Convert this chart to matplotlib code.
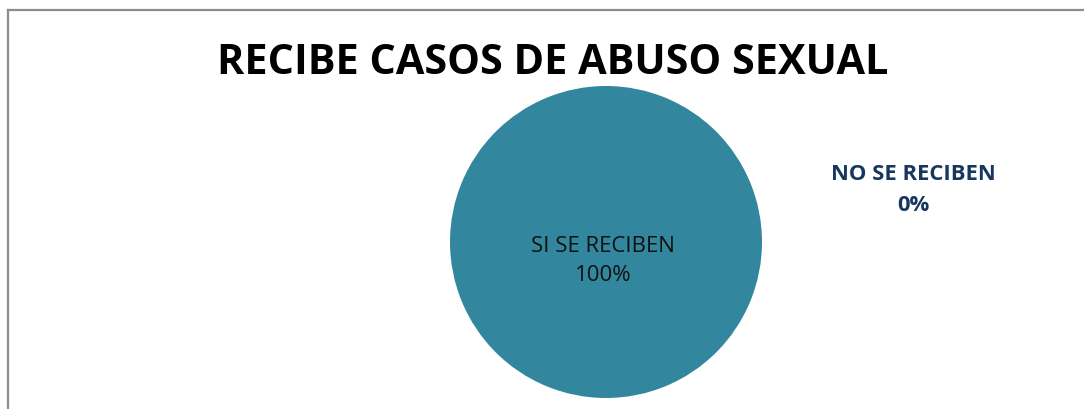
import matplotlib
matplotlib.use("Agg")
import matplotlib.pyplot as plt
from matplotlib.lines import Line2D

title = "RECIBE CASOS DE ABUSO SEXUAL"
categories = ["SI SE RECIBEN", "NO SE RECIBEN"]
values = [100, 0]
colors = ["#32879E", "#4F81BD"]

W, H = 1084, 410
fig = plt.figure(figsize=(W / 100, H / 100), dpi=100)
fig.patch.set_facecolor("white")

ax = fig.add_axes([0, 0, 1, 1])
wedges, _ = ax.pie(values, colors=colors, startangle=90, counterclock=False,
                   center=(606, 243), radius=156,
                   wedgeprops=dict(linewidth=0))
ax.set_xlim(0, W)
ax.set_ylim(H, 0)
ax.set_aspect("equal")
ax.axis("off")

total = sum(values)
pcts = [f"{round(v / total * 100)}%" for v in values]

# chart border (top and left visible)
fig.add_artist(Line2D([8 / W, 1.0], [1 - 11 / H, 1 - 11 / H], color="#8C8C8C", lw=1.6,
                      transform=fig.transFigure))
fig.add_artist(Line2D([8 / W, 8 / W], [1 - 11 / H, 0], color="#8C8C8C", lw=1.6,
                      transform=fig.transFigure))

fig.text(553 / W, 1 - 64 / H, title, ha="center", va="center",
         fontsize=29.8, fontweight="bold", family="Open Sans", color="black")

ax.text(603, 261, f"{categories[0]}\n{pcts[0]}", ha="center", va="center",
        fontsize=16, family="Open Sans", color="#111111", linespacing=1.45)
ax.text(913, 190, f"{categories[1]}\n{pcts[1]}", ha="center", va="center",
        fontsize=15.8, fontweight="bold", family="Open Sans", color="#17375E",
        linespacing=1.6)

fig.savefig("out.png", dpi=100, facecolor="white")
